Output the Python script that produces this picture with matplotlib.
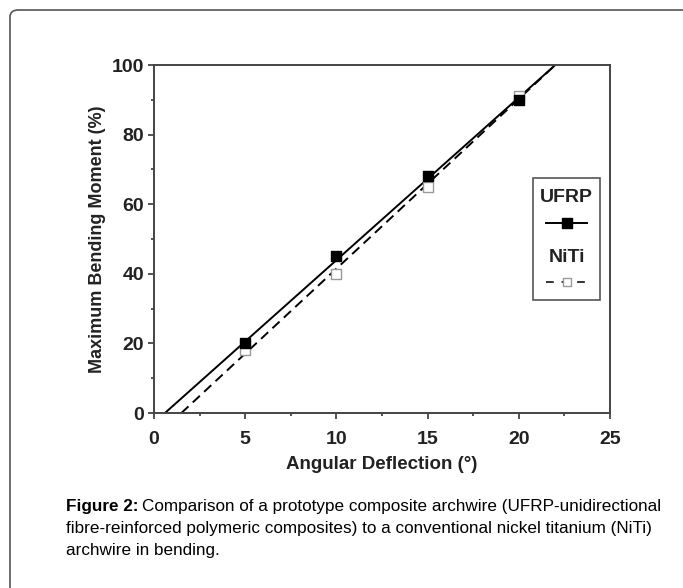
import numpy as np
import matplotlib.pyplot as plt
from matplotlib.patches import FancyBboxPatch, Rectangle
from matplotlib.lines import Line2D

plt.rcParams['font.family'] = ['Liberation Sans', 'DejaVu Sans']

# data
angle = [5, 10, 15, 20]
ufrp = [20, 45, 68, 90]
niti = [18, 40, 65, 91]

# fitted lines (end points)
ufrp_fit_x = [0.6, 22.0]
ufrp_fit_y = [0, 100]
niti_fit_x = [1.5, 22.0]
niti_fit_y = [0, 100]

x_ticks = [0, 5, 10, 15, 20, 25]
y_ticks = [0, 20, 40, 60, 80, 100]

fig = plt.figure(figsize=(6.83, 5.88), dpi=100)

# outer frame (only the top-left part is visible)
frame = FancyBboxPatch((10 / 683, -0.1), 1.2, 1 - 10 / 588 + 0.1,
                       boxstyle='round,pad=0,rounding_size=0.012',
                       transform=fig.transFigure, fc='none', ec='#555555', lw=1.2)
fig.patches.append(frame)

ax = fig.add_axes([154 / 683, 1 - 413 / 588, 456 / 683, 348 / 588])

ax.plot(ufrp_fit_x, ufrp_fit_y, color='black', lw=1.4, ls='-')
ax.plot(niti_fit_x, niti_fit_y, color='black', lw=1.4, ls=(0, (5, 3)))
ax.scatter(angle, niti, marker='s', s=45, facecolor='white', edgecolor='#999999', lw=1, zorder=3)
ax.scatter(angle, ufrp, marker='s', s=50, facecolor='black', edgecolor='black', zorder=4)

ax.set_xlim(0, 25)
ax.set_ylim(0, 100)
ax.set_xticks(x_ticks)
ax.set_yticks(y_ticks)
ax.set_xticks(np.arange(2.5, 25, 5), minor=True)
ax.set_yticks(np.arange(10, 100, 20), minor=True)
ax.tick_params(which='major', direction='out', length=4, width=1.3, color='#444444',
               labelsize=14, pad=3)
ax.tick_params(axis='x', which='major', pad=9)
ax.tick_params(which='minor', direction='out', length=2.5, width=1.3, color='#444444')
for lab in ax.get_xticklabels() + ax.get_yticklabels():
    lab.set_fontweight('bold')
    lab.set_color('#222222')
for sp in ax.spines.values():
    sp.set_color('#444444')
    sp.set_linewidth(1.4)

ax.set_xlabel('Angular Deflection (°)', fontsize=13.5, fontweight='bold', color='#222222', labelpad=6)
ax.set_ylabel('Maximum Bending Moment (%)', fontsize=13, fontweight='bold', color='#222222', labelpad=4)

# hand-made legend box
def fx(px):
    return (px - 154) / 456

def fy(py):
    return (413 - py) / 348

ax.add_patch(Rectangle((fx(533), fy(300)), fx(600) - fx(533), fy(178) - fy(300),
                       transform=ax.transAxes, fc='white', ec='#555555', lw=1.2, zorder=5))
cx = fx(566.5)
ax.text(cx, fy(197), 'UFRP', transform=ax.transAxes, ha='center', va='center',
        fontsize=14, fontweight='bold', color='#222222', zorder=6)
ax.add_line(Line2D([fx(546), fx(587)], [fy(223), fy(223)], transform=ax.transAxes,
                   color='black', lw=1.4, zorder=6))
ax.scatter([cx], [fy(223)], transform=ax.transAxes, marker='s', s=45, color='black', zorder=7)
ax.text(cx, fy(258), 'NiTi', transform=ax.transAxes, ha='center', va='center',
        fontsize=14, fontweight='bold', color='#222222', zorder=6)
ax.add_line(Line2D([fx(546), fx(587)], [fy(282), fy(282)], transform=ax.transAxes,
                   color='#333333', lw=1.4, ls=(0, (4, 4)), zorder=6))
ax.scatter([cx], [fy(282)], transform=ax.transAxes, marker='s', s=40, facecolor='white',
           edgecolor='#999999', zorder=7)

# caption
cap_font = ['Liberation Sans Narrow', 'Liberation Sans', 'DejaVu Sans']
cap_size = 12.3
t = fig.text(66 / 683, 1 - 507 / 588, 'Figure 2:', fontsize=cap_size, fontweight='bold',
             family=cap_font, va='center', ha='left')
fig.canvas.draw()
bb = t.get_window_extent()
fig.text(bb.x1 / 683 + 0.005, 1 - 507 / 588,
         'Comparison of a prototype composite archwire (UFRP-unidirectional',
         fontsize=cap_size, family=cap_font, va='center', ha='left')
fig.text(66 / 683, 1 - 529 / 588,
         'fibre-reinforced polymeric composites) to a conventional nickel titanium (NiTi)',
         fontsize=cap_size, family=cap_font, va='center', ha='left')
fig.text(66 / 683, 1 - 550 / 588, 'archwire in bending.',
         fontsize=cap_size, family=cap_font, va='center', ha='left')

fig.savefig('out.png', dpi=100)
